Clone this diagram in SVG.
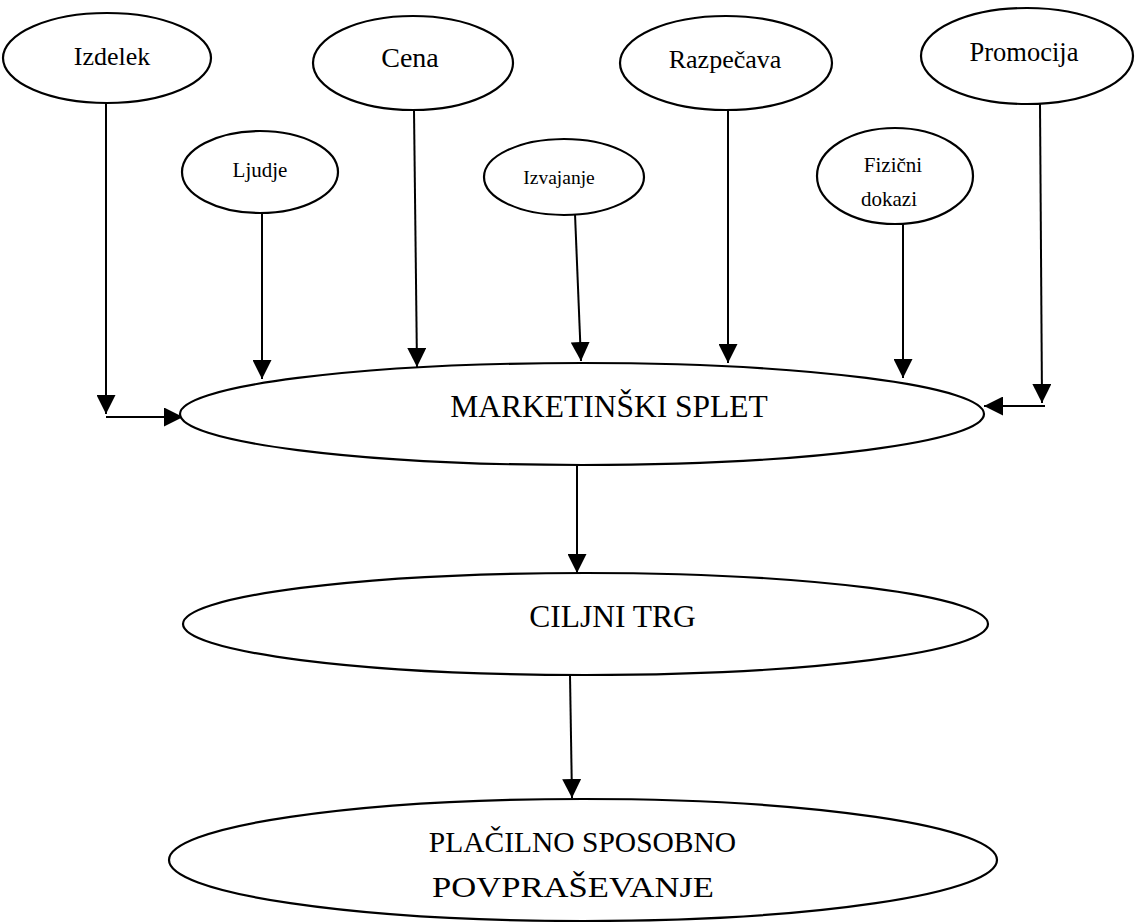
<svg xmlns="http://www.w3.org/2000/svg" width="1135" height="922" viewBox="0 0 1135 922">
<style>
.n ellipse{fill:#fff;stroke:#000;stroke-width:2.2}
text{font-family:"Liberation Serif","Times New Roman",serif;fill:#000;text-anchor:middle}
.c line,.c path{stroke:#000;stroke-width:2;fill:none}
</style>
<defs>
<marker id="ah" viewBox="0 0 20 20" markerWidth="19" markerHeight="19" refX="20" refY="10" orient="auto" markerUnits="userSpaceOnUse">
<path d="M0,0 L20,10 L0,20 z" fill="#000"/>
</marker>
</defs>
<rect width="1135" height="922" fill="#fff"/>
<g class="c" id="connectors">
<line x1="106" y1="104" x2="106" y2="414" marker-end="url(#ah)"/>
<line x1="106" y1="417" x2="183" y2="417" marker-end="url(#ah)"/>
<line x1="262" y1="214" x2="262" y2="379" marker-end="url(#ah)"/>
<line x1="414" y1="110" x2="417" y2="367" marker-end="url(#ah)"/>
<line x1="575" y1="214" x2="581" y2="361" marker-end="url(#ah)"/>
<line x1="728" y1="110" x2="728" y2="363" marker-end="url(#ah)"/>
<line x1="903" y1="224" x2="903" y2="378" marker-end="url(#ah)"/>
<line x1="1040" y1="104" x2="1042" y2="403" marker-end="url(#ah)"/>
<line x1="1045" y1="406" x2="984" y2="406" marker-end="url(#ah)"/>
<line x1="577" y1="465" x2="577" y2="573" marker-end="url(#ah)"/>
<line x1="570" y1="675" x2="572" y2="798" marker-end="url(#ah)"/>
</g>
<g class="n" id="izdelek"><ellipse cx="107" cy="58" rx="104" ry="45"/><text x="112" y="65" font-size="26">Izdelek</text></g>
<g class="n" id="cena"><ellipse cx="413" cy="63" rx="100" ry="47"/><text x="410" y="67" font-size="28">Cena</text></g>
<g class="n" id="razpecava"><ellipse cx="726" cy="63" rx="106" ry="47"/><text x="725" y="68" font-size="26">Razpečava</text></g>
<g class="n" id="promocija"><ellipse cx="1027" cy="56" rx="106" ry="48"/><text x="1024" y="61" font-size="26.5">Promocija</text></g>
<g class="n" id="ljudje"><ellipse cx="260" cy="172" rx="78" ry="41"/><text x="260" y="177" font-size="21">Ljudje</text></g>
<g class="n" id="izvajanje"><ellipse cx="564" cy="177" rx="80" ry="38"/><text x="559" y="184" font-size="19.5">Izvajanje</text></g>
<g class="n" id="fizicni"><ellipse cx="895" cy="176" rx="78" ry="48"/><text x="893" y="172" font-size="21">Fizični</text><text x="889" y="206" font-size="21">dokazi</text></g>
<g class="n" id="splet"><ellipse cx="582" cy="414" rx="402" ry="51"/><text x="609" y="417" font-size="31.5">MARKETINŠKI SPLET</text></g>
<g class="n" id="trg"><ellipse cx="585.5" cy="624" rx="402.5" ry="51"/><text x="612.5" y="627" font-size="31.5">CILJNI TRG</text></g>
<g class="n" id="povprasevanje"><ellipse cx="583" cy="860" rx="414" ry="61"/><text x="582.5" y="852" font-size="29.5">PLAČILNO SPOSOBNO</text><text x="573" y="897" font-size="30" textLength="282" lengthAdjust="spacingAndGlyphs">POVPRAŠEVANJE</text></g>
</svg>
